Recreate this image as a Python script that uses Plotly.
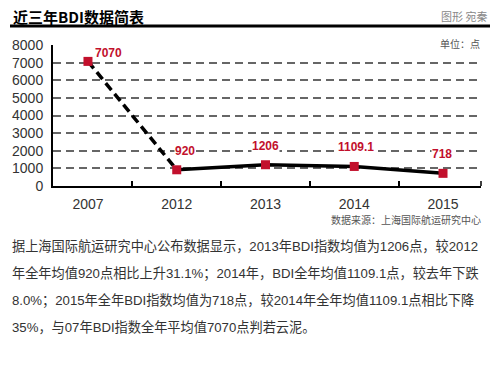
import plotly.graph_objects as go

years = ["2007", "2012", "2013", "2014", "2015"]
bdi_values = [7070, 920, 1206, 1109.1, 718]
value_labels = ["7070", "920", "1206", "1109.1", "718"]
y_ticks = [0, 1000, 2000, 3000, 4000, 5000, 6000, 7000, 8000]

title_text = "近三年BDI数据简表"
credit_text = "图形 宛秦"
unit_text = "单位：点"
source_text = "数据来源：上海国际航运研究中心"
paragraph_lines = [
    "据上海国际航运研究中心公布数据显示，2013年BDI指数均值为1206点，较2012",
    "年全年均值920点相比上升31.1%；2014年，BDI全年均值1109.1点，较去年下跌",
    "8.0%；2015年全年BDI指数均值为718点，较2014年全年均值1109.1点相比下降",
    "35%，与07年BDI指数全年平均值7070点判若云泥。",
]

W, H = 499, 365
L, R, T, B = 53, 481, 45, 186

def px(x):
    return (x - L) / (R - L)

def py(y):
    return (B - y) / (B - T)

RED = "#c2102c"
FONT = "Liberation Sans, Noto Sans CJK SC, sans-serif"
CJK = "Noto Sans CJK SC, Liberation Sans, sans-serif"

xs = list(range(len(years)))

fig = go.Figure()
fig.add_trace(go.Scatter(x=xs[:2], y=bdi_values[:2], mode="lines",
                         line=dict(color="black", width=3.5, dash="9px,5px"),
                         hoverinfo="skip", showlegend=False))
fig.add_trace(go.Scatter(x=xs[1:], y=bdi_values[1:], mode="lines",
                         line=dict(color="black", width=3.5),
                         hoverinfo="skip", showlegend=False))
fig.add_trace(go.Scatter(x=xs, y=bdi_values, mode="markers",
                         marker=dict(symbol="square", size=9, color=RED),
                         showlegend=False))

label_offsets = [(21, 8), (8, 19), (0, 19), (2, 19), (-1, 19)]
annotations = []
for i, (v, t) in enumerate(zip(bdi_values, value_labels)):
    xs_, ys_ = label_offsets[i]
    annotations.append(dict(x=i, y=v, xref="x", yref="y", text="<b>%s</b>" % t,
                            showarrow=False, xshift=xs_, yshift=ys_,
                            font=dict(family=FONT, size=12, color=RED),
                            bgcolor="white", borderpad=0))

annotations += [
    dict(x=px(11), y=py(16), xref="paper", yref="paper", text="<b>%s</b>" % title_text,
         showarrow=False, xanchor="left", yanchor="middle",
         font=dict(family=CJK, size=15, color="black")),
    dict(x=px(489), y=py(16), xref="paper", yref="paper", text=credit_text,
         showarrow=False, xanchor="right", yanchor="middle",
         font=dict(family=CJK, size=11, color="#888888")),
    dict(x=px(483), y=py(43), xref="paper", yref="paper", text=unit_text,
         showarrow=False, xanchor="right", yanchor="middle",
         font=dict(family=CJK, size=10, color="#555555"),
         bgcolor="white", borderpad=2),
    dict(x=px(483), y=py(219), xref="paper", yref="paper", text=source_text,
         showarrow=False, xanchor="right", yanchor="middle",
         font=dict(family=CJK, size=10, color="#555555")),
]
line_y = [246, 273, 300, 327]
for t, yy in zip(paragraph_lines, line_y):
    annotations.append(dict(x=px(10), y=py(yy), xref="paper", yref="paper", text=t,
                            showarrow=False, xanchor="left", yanchor="middle",
                            font=dict(family=FONT, size=13.2, color="#333333")))

shapes = [
    dict(type="line", xref="paper", yref="paper", x0=px(10), x1=px(490),
         y0=py(26), y1=py(26), line=dict(color="black", width=3)),
    dict(type="line", xref="paper", yref="paper", x0=1, x1=1,
         y0=0, y1=py(181), line=dict(color="black", width=1.5)),
]

fig.update_layout(
    width=W, height=H,
    margin=dict(l=L, r=W - R, t=T, b=H - B),
    paper_bgcolor="white", plot_bgcolor="white",
    annotations=annotations, shapes=shapes,
    xaxis=dict(range=[-0.394, 4.428], tickmode="array", tickvals=xs, ticktext=years,
               ticks="", showgrid=False, zeroline=False,
               showline=True, linecolor="black", linewidth=2,
               tickfont=dict(family=FONT, size=14, color="#333333"),
               ticklabelstandoff=4,
               minor=dict(tick0=0.5, dtick=1, ticks="inside", ticklen=5,
                          tickcolor="black", tickwidth=1.5, showgrid=False)),
    yaxis=dict(range=[0, 8000], tickmode="array", tickvals=y_ticks,
               ticks="", showgrid=True, gridcolor="#666666", gridwidth=1.5,
               griddash="8px,5px", zeroline=False,
               showline=True, linecolor="black", linewidth=2,
               tickfont=dict(family=FONT, size=14, color="#333333"),
               ticklabelstandoff=5),
)

fig.write_html("out.html", config={"displayModeBar": False},
               post_script="document.body.style.margin='0';")
